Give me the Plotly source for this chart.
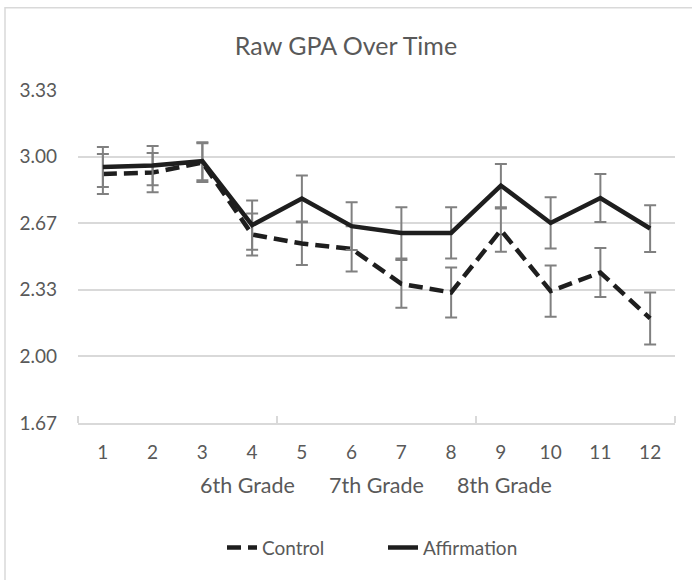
import plotly.graph_objects as go

# ---- data ----
sessions = list(range(1, 13))
control = [2.913, 2.92, 2.97, 2.61, 2.565, 2.538, 2.363, 2.32, 2.632, 2.327, 2.42, 2.19]
control_err = [0.10, 0.098, 0.097, 0.105, 0.107, 0.113, 0.12, 0.125, 0.108, 0.128, 0.123, 0.13]
affirmation = [2.948, 2.955, 2.977, 2.657, 2.79, 2.652, 2.618, 2.618, 2.855, 2.668, 2.793, 2.64]
affirmation_err = [0.10, 0.098, 0.095, 0.123, 0.115, 0.12, 0.128, 0.128, 0.108, 0.128, 0.12, 0.117]
y_ticks = [5/3, 2.0, 7/3, 8/3, 3.0, 10/3]
group_bounds = [0.5, 4.5, 8.5, 12.5]
grade_labels = ["6th Grade", "7th Grade", "8th Grade"]
grade_pos = [0.284, 0.5, 0.715]

FONT = "Lato, 'Open Sans', sans-serif"
TXT = "#595959"
GRID = "#d9d9d9"
ERR = "#808080"
LINE = "#1e1e1e"

fig = go.Figure()
fig.add_trace(go.Scatter(
    x=sessions, y=control, name="Control", mode="lines",
    line=dict(color=LINE, width=4.5, dash="14px,7px"),
    error_y=dict(type="data", array=control_err, visible=True,
                 color=ERR, thickness=2, width=6),
))
fig.add_trace(go.Scatter(
    x=sessions, y=affirmation, name="Affirmation", mode="lines",
    line=dict(color=LINE, width=4.5),
    error_y=dict(type="data", array=affirmation_err, visible=True,
                 color=ERR, thickness=2, width=6),
))

annotations = [
    dict(text=t, x=p, y=-0.185, xref="paper", yref="paper",
         showarrow=False, xanchor="center", yanchor="middle",
         font=dict(family=FONT, size=21.5, color=TXT))
    for t, p in zip(grade_labels, grade_pos)
]

fig.update_layout(
    width=692, height=580,
    margin=dict(l=78, r=17, t=90, b=157),
    paper_bgcolor="white", plot_bgcolor="white",
    font=dict(family=FONT, color=TXT, size=19),
    title=dict(text="Raw GPA Over Time", x=0.5, xanchor="center",
               y=1 - 46 / 580, yanchor="middle",
               font=dict(family=FONT, size=25, color=TXT)),
    xaxis=dict(
        range=[0.5, 12.5], tickvals=sessions, ticktext=[str(s) for s in sessions],
        ticks="", showgrid=False, zeroline=False,
        showline=True, linecolor=GRID, linewidth=1.5,
        ticklabelstandoff=11,
        tickfont=dict(family=FONT, size=19, color=TXT),
        minor=dict(tickvals=group_bounds, ticks="inside", ticklen=7,
                   tickcolor=GRID, tickwidth=1.5, showgrid=False),
    ),
    yaxis=dict(
        range=[5/3, 10/3], tickvals=y_ticks, tickformat=".2f",
        ticks="", showgrid=True, gridcolor=GRID, gridwidth=1.5,
        zeroline=False, showline=False, ticklabelstandoff=20,
        tickfont=dict(family=FONT, size=19, color=TXT),
    ),
    showlegend=True,
    legend=dict(orientation="h", x=(222 - 78) / 597, xanchor="left",
                y=(423.3 - 548) / 333, yanchor="middle",
                font=dict(family=FONT, size=19, color=TXT),
                entrywidth=116, entrywidthmode="pixels",
                bgcolor="rgba(0,0,0,0)"),
    annotations=annotations,
    shapes=[dict(type="rect", xref="paper", yref="paper",
                 x0=(5 - 78) / 597, x1=(720 - 78) / 597,
                 y0=(423.3 - 620) / 333, y1=(423.3 - 8) / 333,
                 line=dict(color=GRID, width=1.5), fillcolor="rgba(0,0,0,0)",
                 layer="below")],
)

fig.write_html("out.html",
               config={"displayModeBar": False},
               post_script="document.body.style.margin='0px';document.body.style.overflow='hidden';")
